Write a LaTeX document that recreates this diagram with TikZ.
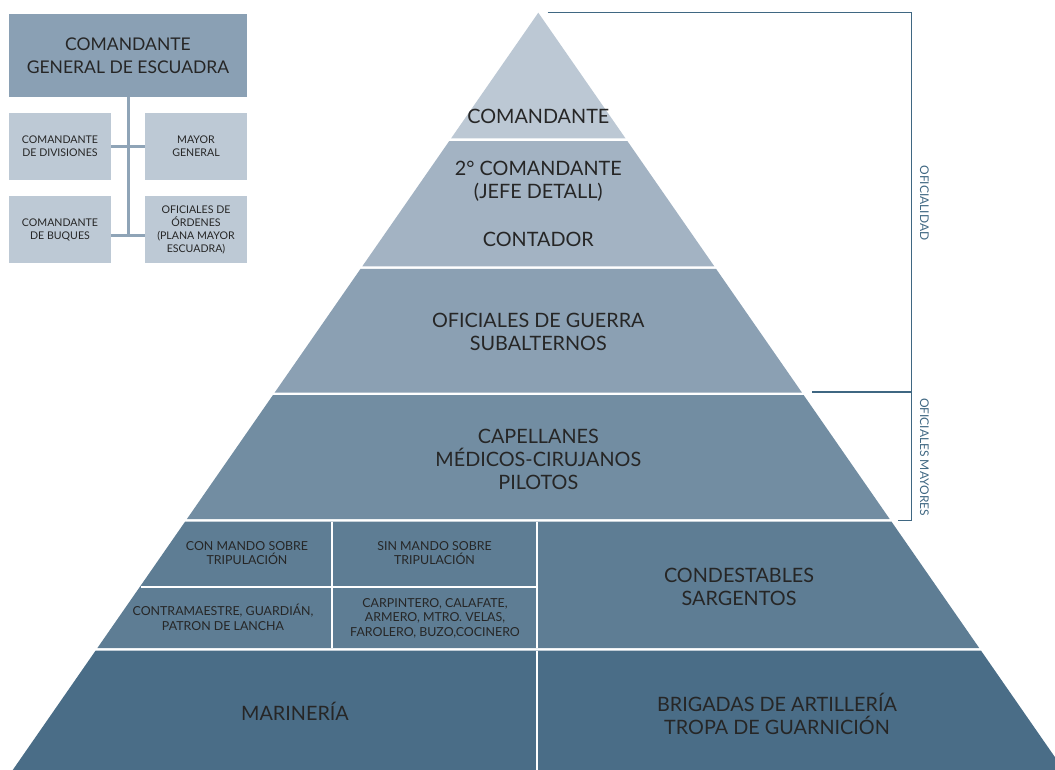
\documentclass[tikz,border=0pt]{standalone}
\usepackage{fontspec}
\setmainfont{Lato}
\usetikzlibrary{calc}
\definecolor{ink}{HTML}{262626}
\definecolor{bandA}{HTML}{BCC8D4}
\definecolor{bandB}{HTML}{A3B3C3}
\definecolor{bandC}{HTML}{8BA0B3}
\definecolor{bandD}{HTML}{728DA2}
\definecolor{bandE}{HTML}{5E7D94}
\definecolor{bandF}{HTML}{4A6D87}
\definecolor{orgmain}{HTML}{8AA0B4}
\definecolor{orgsub}{HTML}{BDC9D5}
\definecolor{orgline}{HTML}{8FA4B7}
\definecolor{brk}{HTML}{3F6782}
\tikzset{
  bigtxt/.style={font=\fontsize{19.8bp}{23bp}\selectfont, align=center, text=ink, inner sep=0pt},
  midtxt/.style={font=\fontsize{12.4bp}{14.5bp}\selectfont, align=center, text=ink, inner sep=0pt},
  orgbox/.style={fill=orgsub, minimum width=102bp, minimum height=67bp, inner sep=0pt,
     font=\fontsize{10.6bp}{13bp}\selectfont, align=center, text=ink},
  mainbox/.style={fill=orgmain, minimum width=238bp, minimum height=83bp, inner sep=0pt,
     font=\fontsize{17.5bp}{23bp}\selectfont, align=center, text=ink},
  orgconn/.style={draw=orgline, line width=3bp},
  sepline/.style={draw=white, line width=2bp},
  brkline/.style={draw=brk, line width=1.4bp},
  brktxt/.style={font=\fontsize{12bp}{13bp}\selectfont, text=brk, inner sep=0pt, rotate=-90}
}
\begin{document}
\begin{tikzpicture}[x=1bp,y=-1bp]
\useasboundingbox (0,0) rectangle (1055,770);
\begin{scope}
\clip (0,0) rectangle (1055,770);
% pyramid bands
\fill[bandA] (538.3,12.7) -- (625.54,138.4) -- (451.06,138.4) -- cycle;
\fill[bandB] (449.26,141.0) -- (627.34,141.0) -- (714.3,266.3) -- (362.3,266.3) -- cycle;
\fill[bandC] (360.5,268.9) -- (716.1,268.9) -- (801.88,392.5) -- (274.72,392.5) -- cycle;
\fill[bandD] (272.91,395.1) -- (803.69,395.1) -- (889.67,519.0) -- (186.93,519.0) -- cycle;
\fill[bandE] (185.12,521.6) -- (891.48,521.6) -- (979.20,648.0) -- (97.40,648.0) -- cycle;
\fill[bandF] (95.60,650.6) -- (981.0,650.6) -- (1063.87,770) -- (12.73,770) -- cycle;
% subdivisions
\draw[sepline] (537,521.6) -- (537,648.0);
\draw[sepline] (331.7,521.6) -- (331.7,648.0);
\draw[sepline] (141.0,586.7) -- (537,586.7);
\draw[sepline] (536.6,650.6) -- (536.6,770);
\end{scope}

% pyramid texts
\node[bigtxt, text height=14.3bp, text depth=0pt] (tcom) at (538.3,116) {COMANDANTE};
\node[bigtxt] (tsec) at (538.3,181.5) {2° COMANDANTE\\(JEFE DETALL)};
\node[bigtxt, text height=14.3bp, text depth=0pt] (tcont) at (538.3,239) {CONTADOR};
\node[bigtxt] (tofg) at (538.3,331.5) {OFICIALES DE GUERRA\\SUBALTERNOS};
\node[bigtxt] (tcap) at (538.3,459.5) {CAPELLANES\\MÉDICOS-CIRUJANOS\\PILOTOS};
\node[midtxt] (tcon) at (247,553) {CON MANDO SOBRE\\TRIPULACIÓN};
\node[midtxt] (tsin) at (434.5,553) {SIN MANDO SOBRE\\TRIPULACIÓN};
\node[midtxt] (tcontra) at (223,617.5) {CONTRAMAESTRE, GUARDIÁN,\\PATRON DE LANCHA};
\node[midtxt] (tcarp) at (435,618.3) {CARPINTERO, CALAFATE,\\ARMERO, MTRO. VELAS,\\FAROLERO, BUZO,COCINERO};
\node[bigtxt] (tcond) at (739,586.5) {CONDESTABLES\\SARGENTOS};
\node[bigtxt, text height=14.3bp, text depth=0pt] (tmar) at (295,713) {MARINERÍA};
\node[bigtxt] (tbrig) at (777,714) {BRIGADAS DE ARTILLERÍA\\TROPA DE GUARNICIÓN};

% right bracket
\coordinate (bA) at (547.7,12.7);
\coordinate (bB) at (911.5,12.7);
\coordinate (bC) at (911.5,520.5);
\coordinate (bD) at (898,520.5);
\coordinate (bM) at (911.5,392);
\coordinate (bN) at (812,392);
\draw[brkline] (bA) -- (bB) -- (bC) -- (bD);
\draw[brkline] (bM) -- (bN);
\node[brktxt] (lofi) at (924.5,203) {OFICIALIDAD};
\node[brktxt] (lmay) at (924.5,457) {OFICIALES MAYORES};

% org chart
\node[mainbox] (cge) at (128,55.5) {COMANDANTE\\GENERAL DE ESCUADRA};
\node[orgbox] (cdiv) at (60,146.5) {COMANDANTE\\DE DIVISIONES};
\node[orgbox] (mgen) at (196,146.5) {MAYOR\\GENERAL};
\node[orgbox] (cbuq) at (60,229.5) {COMANDANTE\\DE BUQUES};
\node[orgbox] (oord) at (196,229.5) {OFICIALES DE\\ÓRDENES\\(PLANA MAYOR\\ESCUADRA)};
\coordinate (jb) at (128,235);
\draw[orgconn] (cge.south) -- (jb);
\draw[orgconn] (cdiv.east) -- (mgen.west);
\draw[orgconn] (jb -| cbuq.east) -- (jb -| oord.west);
\end{tikzpicture}
\end{document}
